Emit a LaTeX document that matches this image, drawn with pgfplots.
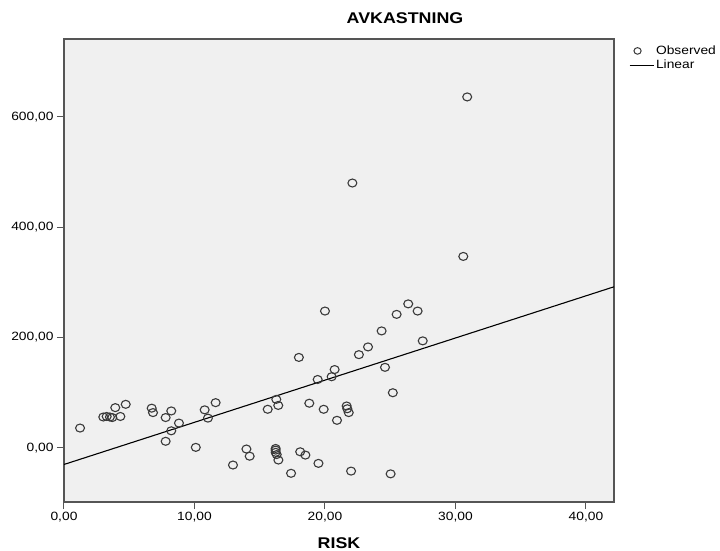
\documentclass[border=0pt]{standalone}
\usepackage{fontspec}
\setmainfont{Liberation Sans}[FakeStretch=1.15]
\usepackage{pgfplots}
\pgfplotsset{compat=1.18}
\definecolor{plotbg}{HTML}{F0F0F0}
\definecolor{axgray}{HTML}{555555}
\definecolor{markgray}{HTML}{3A3A3A}
\begin{document}
\begin{tikzpicture}
\path[use as bounding box] (-64pt,-49pt) rectangle (656pt,502pt);
\begin{axis}[
	scale only axis,
	width=550pt, height=463pt,
	xmin=0, xmax=42.15,
	ymin=-98, ymax=741,
	xtick={0,10,20,30,40},
	ytick={0,200,400,600},
	tick align=outside,
	xtick pos=bottom, ytick pos=left,
	major tick length=7pt,
	tick style={axgray, line width=1pt},
	axis line style={axgray, line width=1.2pt},
	axis background/.style={fill=plotbg},
	ticklabel style={font=\fontsize{12}{14}\selectfont},
	xticklabel style={/pgf/number format/use comma, /pgf/number format/fixed, /pgf/number format/fixed zerofill, /pgf/number format/precision=2, /pgf/number format/assume math mode=true},
	yticklabel style={/pgf/number format/use comma, /pgf/number format/fixed, /pgf/number format/fixed zerofill, /pgf/number format/precision=2, /pgf/number format/1000 sep={}, /pgf/number format/assume math mode=true},
	title={AVKASTNING},
	title style={at={(0.62,1)}, anchor=base, yshift=9pt, font=\fontsize{15.5}{18}\selectfont\bfseries},
	xlabel={RISK},
	xlabel style={at={(axis description cs:0.5,0)}, anchor=base, yshift=-46pt, font=\fontsize{15.5}{18}\selectfont\bfseries},
	legend style={at={(1.027,0.99)}, anchor=north west, draw=none, fill=none,
		font=\fontsize{12}{14}\selectfont, inner sep=0pt, row sep=0pt},
	legend cell align=left,
]

% observed points
\addplot[only marks, mark=o, mark size=4pt, mark options={xscale=1.12, markgray, line width=1.1pt},
	legend image code/.code={\path[draw=none] (0pt,0pt) -- (24pt,0pt);
		\draw[markgray, line width=1pt] (8pt,0pt) ellipse (3.6pt and 3.3pt);}]
coordinates{
	(1.23,36)
	(3.01,56) (3.27,57) (3.52,56) (3.70,55)
	(3.93,73) (4.32,57) (4.73,79)
	(6.72,72) (6.82,64)
	(7.79,55) (8.22,67) (8.81,45) (8.22,31) (7.79,12)
	(10.1,1) (10.78,69) (11.03,54) (11.62,82)
	(12.95,-31) (13.98,-2) (14.23,-15)
	(15.61,70) (16.27,88) (16.42,77)
	(16.22,-1) (16.22,-4) (16.22,-8) (16.3,-12) (16.43,-22)
	(17.4,-46) (18.0,164) (18.1,-7) (18.5,-13) (18.8,81)
	(19.44,124) (19.5,-28) (19.9,70) (20.0,248)
	(20.51,129) (20.74,142) (20.92,50)
	(21.66,76) (21.71,71) (21.82,64)
	(22.0,-42) (22.1,480) (22.6,169) (23.3,183)
	(24.34,212) (24.6,146) (25.03,-47) (25.2,100) (25.49,242)
	(26.38,261) (27.1,248) (27.49,194)
	(30.6,347) (30.9,636)
};
\addlegendentry{Observed}

% linear fit
\addplot[black, line width=1.1pt,
	legend image code/.code={\draw[black, line width=1pt] (0pt,0pt) -- (24pt,0pt);}]
coordinates{
	(0,-30)
	(42.15,292)
};
\addlegendentry{Linear}

\end{axis}
\end{tikzpicture}
\end{document}
